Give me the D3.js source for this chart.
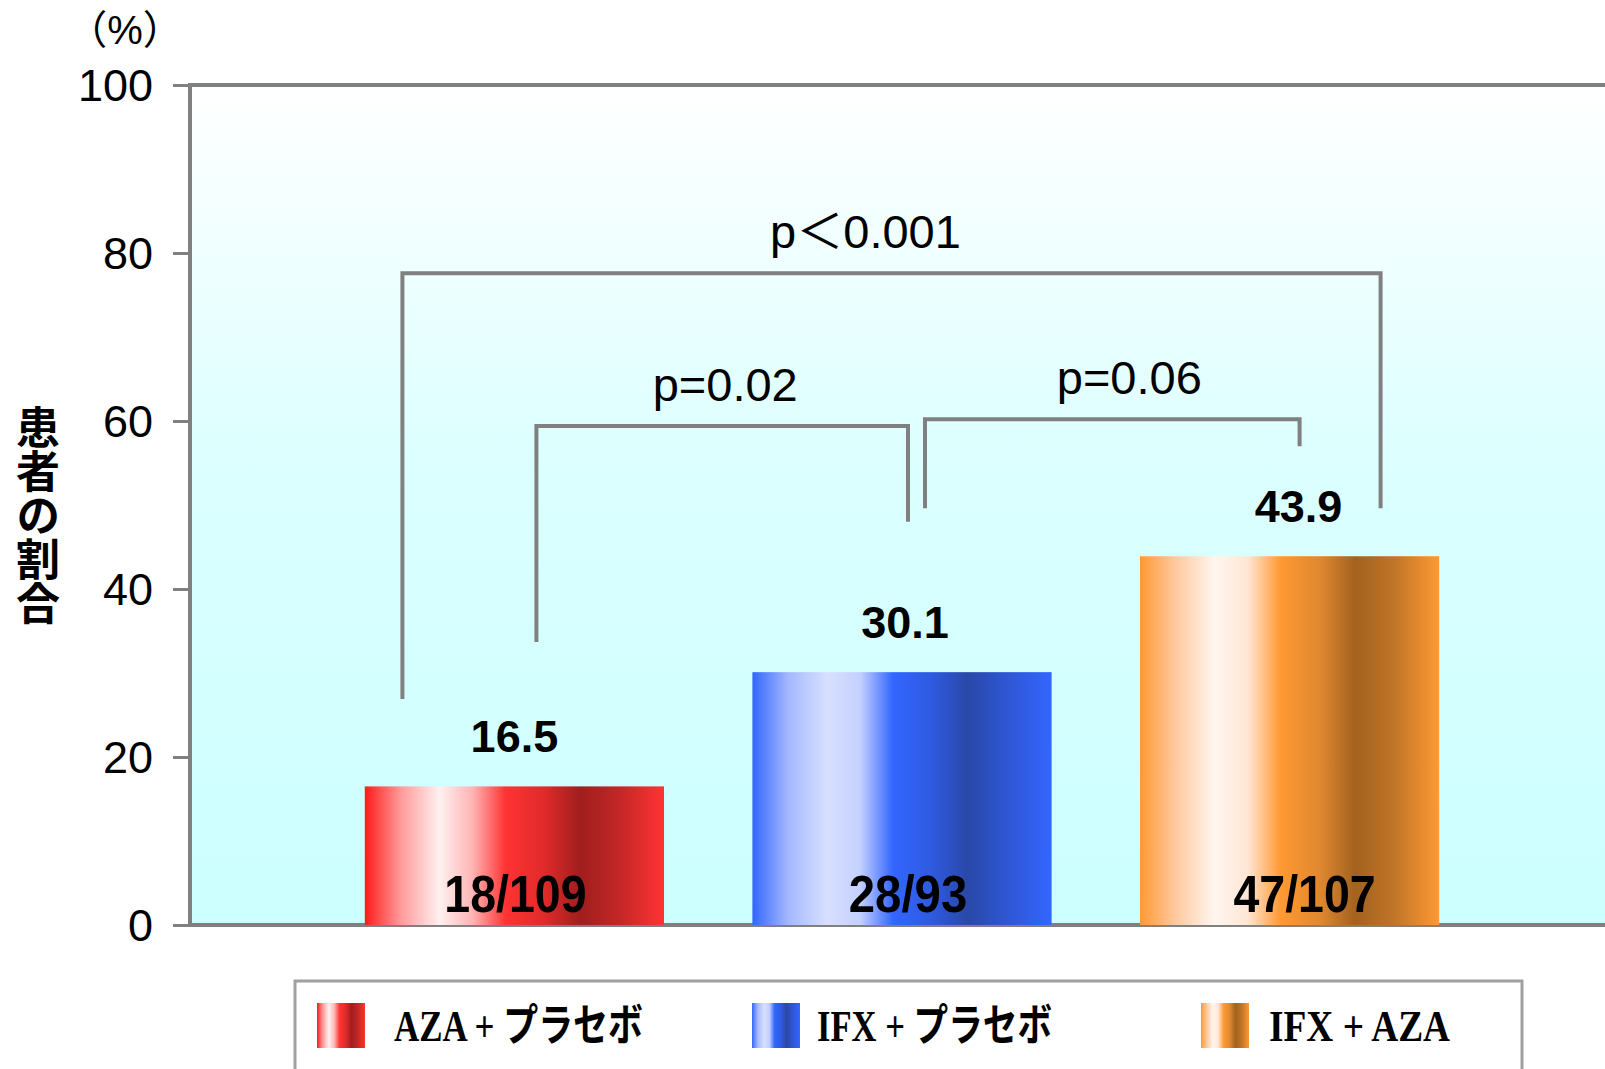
<!DOCTYPE html>
<html>
<head>
<meta charset="utf-8">
<script src="https://cdn.jsdelivr.net/npm/d3@7"></script>
<style>
  body { margin: 0; background: #fff; }
  svg { display: block; }
</style>
</head>
<body>
<svg id="chart"></svg>
<script>
// data
var groups = ["AZA + プラセボ", "IFX + プラセボ", "IFX + AZA"];
var values = [16.5, 30.1, 43.9];
var valueLabels = ["16.5", "30.1", "43.9"];
var fractions = ["18/109", "28/93", "47/107"];
var yTicks = [0, 20, 40, 60, 80, 100];
// brackets: from group, to group, left foot, top, right foot (in %)
var brackets = [
  { from: 0, to: 2, left: 26.9, top: 77.6, right: 49.6, label: "p＜0.001" },
  { from: 0, to: 1, left: 33.7, top: 59.4, right: 48.0, label: "p=0.02" },
  { from: 1, to: 2, left: 49.6, top: 60.2, right: 57.0, label: "p=0.06" }
];

var W = 1605, H = 1069;
var margin = { left: 190, top: 85 };
var plotW = W - margin.left, plotH = 925 - margin.top;

var svg = d3.select("#chart").attr("width", W).attr("height", H);
var defs = svg.append("defs");

// background gradient
var bg = defs.append("linearGradient").attr("id", "bg")
  .attr("x1", 0).attr("y1", 0).attr("x2", 0).attr("y2", 1);
bg.append("stop").attr("offset", "0%").attr("stop-color", "#ffffff");
bg.append("stop").attr("offset", "45%").attr("stop-color", "#dcffff");
bg.append("stop").attr("offset", "100%").attr("stop-color", "#ccffff");

// metallic bar gradients
var barStops = [
  ["#ff1a1a", "#ff9a9a", "#fff0f0", "#ffb4b4", "#ff3333", "#e02a2a", "#a01e1e", "#c42626", "#ff3333"],
  ["#3366ff", "#a4b8ff", "#d8e0ff", "#c4d0ff", "#3366ff", "#2f5ae0", "#2a48a8", "#2f56d4", "#3366ff"],
  ["#ff9933", "#ffc9a0", "#fff6ef", "#ffe6d4", "#ff9933", "#e08830", "#a3621f", "#c07528", "#ff9933"]
];
var offsets = [0, 12, 25, 36, 47, 60, 72, 85, 100];
barStops.forEach(function (s, i) {
  var g = defs.append("linearGradient").attr("id", "bar" + i)
    .attr("x1", 0).attr("y1", 0).attr("x2", 1).attr("y2", 0);
  s.forEach(function (c, j) {
    g.append("stop").attr("offset", offsets[j] + "%").attr("stop-color", c);
  });
});

var g = svg.append("g").attr("transform", `translate(${margin.left}, ${margin.top})`);

// scales
var x = d3.scaleBand().domain(d3.range(groups.length)).range([0, 1424]).paddingInner(0.228).paddingOuter(0.451);
var y = d3.scaleLinear().domain([0, 100]).range([plotH, 0]);

// plot background + frame
g.append("rect").attr("x", 0).attr("y", 0).attr("width", plotW + 20).attr("height", plotH)
  .attr("fill", "url(#bg)").attr("stroke", "#808080").attr("stroke-width", 4);

// y axis
var yAxis = g.append("g").call(d3.axisLeft(y).tickValues(yTicks).tickSize(15).tickPadding(22));
yAxis.select(".domain").remove();
yAxis.selectAll(".tick line").attr("stroke", "#808080").attr("stroke-width", 3).attr("transform", "translate(-2,0)");
yAxis.selectAll(".tick text")
  .attr("font-family", "Liberation Sans, Arial, sans-serif")
  .attr("font-size", 45).attr("fill", "#000").attr("dy", "0.35em");

// bars
g.selectAll("rect.bar").data(values).join("rect").attr("class", "bar")
  .attr("x", (d, i) => x(i)).attr("y", d => y(d))
  .attr("width", x.bandwidth()).attr("height", d => plotH - y(d))
  .attr("fill", (d, i) => "url(#bar" + i + ")");

// value labels
var valShift = [0, 3, 9];
g.selectAll("text.val").data(values).join("text").attr("class", "val")
  .attr("x", (d, i) => x(i) + x.bandwidth() / 2 + valShift[i]).attr("y", d => y(d) - 34)
  .attr("text-anchor", "middle")
  .attr("font-family", "Liberation Sans, Arial, sans-serif")
  .attr("font-weight", "bold").attr("font-size", 45)
  .text((d, i) => valueLabels[i]);

// fractions in bars
var fracShift = [1, 6, 15];
g.selectAll("text.frac").data(fractions).join("text").attr("class", "frac")
  .attr("x", (d, i) => x(i) + x.bandwidth() / 2 + fracShift[i]).attr("y", plotH - 13)
  .attr("text-anchor", "middle")
  .attr("font-family", "Liberation Sans Narrow, Liberation Sans, Arial, sans-serif")
  .attr("font-weight", "bold").attr("font-size", 52)
  .attr("textLength", d => d.length * 23.7).attr("lengthAdjust", "spacingAndGlyphs")
  .text(d => d);

// significance brackets
var cx = i => x(i) + x.bandwidth() / 2;
var footOffset = [[-112, 91], [22, 6], [23, 10]];
var labelShift = [-26, 3, 17];
brackets.forEach(function (b, k) {
  var x1 = cx(b.from) + footOffset[k][0], x2 = cx(b.to) + footOffset[k][1];
  g.append("path")
    .attr("d", `M${x1},${y(b.left)}V${y(b.top)}H${x2}V${y(b.right)}`)
    .attr("fill", "none").attr("stroke", "#808080").attr("stroke-width", 4);
  g.append("text")
    .attr("x", (x1 + x2) / 2 + labelShift[k]).attr("y", y(b.top) - 25)
    .attr("text-anchor", "middle")
    .attr("font-family", "Liberation Sans, Arial, 'Noto Sans CJK JP', sans-serif")
    .attr("font-size", 47).attr("fill", "#000")
    .text(b.label);
});

// y axis title (vertical)
svg.append("text")
  .attr("x", 38).attr("y", 405)
  .style("writing-mode", "vertical-rl")
  .attr("font-family", "'Noto Sans CJK JP', sans-serif")
  .attr("font-weight", "bold").attr("font-size", 44)
  .text("患者の割合");

// unit
svg.append("text").attr("x", 125).attr("y", 44).attr("text-anchor", "middle")
  .attr("font-family", "Liberation Sans, 'Noto Sans CJK JP', sans-serif").attr("font-size", 40)
  .text("（%）");

// legend
var lg = svg.append("g");
lg.append("rect").attr("x", 295).attr("y", 981).attr("width", 1227).attr("height", 140)
  .attr("fill", "#fff").attr("stroke", "#a0a0a0").attr("stroke-width", 3);
var legX = [317, 752, 1201];
var legTextX = [394, 817, 1269];
var legW = [249, 235, 181];
groups.forEach(function (name, i) {
  lg.append("rect").attr("x", legX[i]).attr("y", 1003).attr("width", 48).attr("height", 45)
    .attr("fill", "url(#bar" + i + ")");
  lg.append("text").attr("x", legTextX[i]).attr("y", 1041)
    .attr("font-family", "'Liberation Serif', 'Noto Sans CJK JP', serif")
    .attr("font-weight", "bold").attr("font-size", 44)
    .attr("textLength", legW[i]).attr("lengthAdjust", "spacingAndGlyphs")
    .text(name);
});
</script>
</body>
</html>
